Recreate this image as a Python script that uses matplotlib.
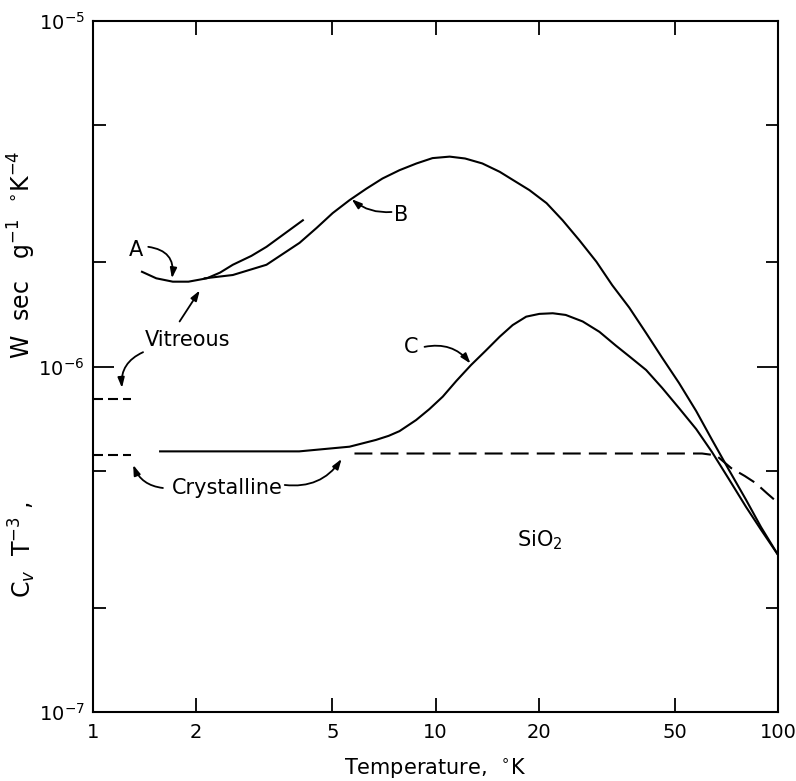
import numpy as np
import matplotlib
matplotlib.use("Agg")
import matplotlib.pyplot as plt
from matplotlib.ticker import FixedLocator, NullFormatter, LogFormatterMathtext

# curve A (vitreous, low temperature run)
temp_a = [1.39, 1.53, 1.71, 1.9, 2.15, 2.35, 2.56, 2.9, 3.21, 4.1]
cv_a = [1.88e-6, 1.80e-6, 1.76e-6, 1.76e-6, 1.80e-6, 1.87e-6, 1.97e-6, 2.09e-6,
        2.22e-6, 2.65e-6]

# curve B (vitreous)
temp_b = [2.12, 2.56, 3.21, 4.01, 4.5, 5.01, 5.61, 6.28, 7.0, 7.85, 8.8, 9.8,
          11.0, 12.2, 13.7, 15.4, 16.8, 18.8, 21.1, 23.5, 26.3, 29.5, 32.8,
          36.8, 41.2, 45.9, 51.4, 57.7, 64.2, 71.9, 80.7, 89.2, 100]
cv_b = [1.80e-6, 1.84e-6, 1.97e-6, 2.28e-6, 2.52e-6, 2.78e-6, 3.03e-6, 3.27e-6,
        3.50e-6, 3.70e-6, 3.87e-6, 4.01e-6, 4.05e-6, 4.00e-6, 3.87e-6, 3.66e-6,
        3.47e-6, 3.24e-6, 2.97e-6, 2.65e-6, 2.32e-6, 2.01e-6, 1.72e-6, 1.48e-6,
        1.25e-6, 1.06e-6, 8.96e-7, 7.43e-7, 6.13e-7, 5.02e-7, 4.11e-7, 3.43e-7,
        2.85e-7]

# curve C (crystalline)
temp_c = [1.57, 3.0, 4.0, 5.61, 6.7, 7.3, 7.85, 8.78, 9.6, 10.5, 11.5, 12.7,
          14.0, 15.4, 16.8, 18.4, 20.1, 22.0, 24.0, 26.9, 30.1, 33.6, 36.8,
          41.2, 45.9, 51.4, 57.7, 64.2, 71.9, 80.7, 89.2, 100]
cv_c = [5.68e-7, 5.68e-7, 5.68e-7, 5.86e-7, 6.13e-7, 6.3e-7, 6.5e-7, 7.0e-7,
        7.53e-7, 8.18e-7, 9.08e-7, 1.01e-6, 1.11e-6, 1.22e-6, 1.318e-6,
        1.394e-6, 1.42e-6, 1.426e-6, 1.41e-6, 1.35e-6, 1.26e-6, 1.15e-6,
        1.07e-6, 9.77e-7, 8.67e-7, 7.58e-7, 6.59e-7, 5.65e-7, 4.72e-7,
        3.92e-7, 3.37e-7, 2.85e-7]

# crystalline (dashed)
temp_d = [5.8, 30, 60, 66, 73, 80, 86, 93, 100]
cv_d = [5.6e-7, 5.6e-7, 5.6e-7, 5.53e-7, 5.08e-7, 4.82e-7, 4.6e-7, 4.29e-7, 4.03e-7]

# low-T limits on the left edge
temp_lim = [1.0, 1.29]
cv_vit_lim = 8.05e-7
cv_cry_lim = 5.55e-7

xticks = [1, 2, 5, 10, 20, 50, 100]
xticklabels = ["1", "2", "5", "10", "20", "50", "100"]

fig = plt.figure(figsize=(7.96, 7.81), dpi=100)
ax = fig.add_axes([93 / 796, 1 - 712 / 781, (778 - 93) / 796, (712 - 21) / 781])
ax.set_xscale("log")
ax.set_yscale("log")
ax.set_xlim(1, 100)
ax.set_ylim(1e-7, 1e-5)

lw = 1.5
ax.plot(temp_a, cv_a, color="black", lw=lw)
ax.plot(temp_b, cv_b, color="black", lw=lw)
ax.plot(temp_c, cv_c, color="black", lw=lw)
ax.plot(temp_d, cv_d, color="black", lw=lw, linestyle=(0, (8.6, 3.9)))
ax.plot(temp_lim, [cv_vit_lim] * 2, color="black", lw=lw, linestyle=(0, (4.8, 2.4)))
ax.plot(temp_lim, [cv_cry_lim] * 2, color="black", lw=lw, linestyle=(0, (4.8, 2.4)))

# ticks
ax.xaxis.set_major_locator(FixedLocator(xticks))
ax.set_xticklabels(xticklabels)
ax.xaxis.set_minor_locator(FixedLocator([]))
ax.yaxis.set_major_locator(FixedLocator([1e-7, 1e-6, 1e-5]))
ax.yaxis.set_major_formatter(LogFormatterMathtext())
ax.yaxis.set_minor_locator(FixedLocator([2e-7, 5e-7, 2e-6, 5e-6]))
ax.yaxis.set_minor_formatter(NullFormatter())
ax.tick_params(axis="both", which="both", direction="in", top=True, right=True,
               width=1.3, labelsize=14, colors="black")
ax.tick_params(axis="x", which="major", length=10, pad=8)
ax.tick_params(axis="y", which="major", length=15, pad=6)
ax.tick_params(axis="y", which="minor", length=9)
for s in ax.spines.values():
    s.set_linewidth(1.5)

ax.set_xlabel("Temperature,  $^{\\circ}$K", fontsize=15, labelpad=10)
fig.text(22 / 796, 1 - 255 / 781, "W  sec   g$^{-1}$  $^{\\circ}$K$^{-4}$",
         rotation=90, ha="center", va="center", fontsize=17)
fig.text(22 / 796, 1 - 550 / 781, "C$_v$  T$^{-3}$ ,",
         rotation=90, ha="center", va="center", fontsize=17)

# labels and arrows
fs = 15
ax.text(1.335, 2.17e-6, "A", fontsize=fs, ha="center", va="center")
ax.text(7.96, 2.74e-6, "B", fontsize=fs, ha="center", va="center")
ax.text(8.51, 1.14e-6, "C", fontsize=fs, ha="center", va="center")
ax.text(1.89, 1.19e-6, "Vitreous", fontsize=fs, ha="center", va="center")
ax.text(2.46, 4.45e-7, "Crystalline", fontsize=fs, ha="center", va="center")
ax.text(20.1, 3.15e-7, "SiO$_2$", fontsize=fs, ha="center", va="center")

arrows = [
    ((1.45, 2.22e-6), (1.70, 1.80e-6), -0.5),
    ((7.44, 2.80e-6), (5.69, 3.05e-6), -0.2),
    ((9.29, 1.14e-6), (12.65, 1.02e-6), -0.3),
    ((1.79, 1.35e-6), (2.05, 1.66e-6), 0.0),
    ((1.40, 1.10e-6), (1.215, 8.67e-7), 0.35),
    ((1.60, 4.45e-7), (1.31, 5.19e-7), -0.3),
    ((3.63, 4.54e-7), (5.32, 5.40e-7), 0.3),
]
for start, tip, rad in arrows:
    ax.annotate("", xy=tip, xytext=start,
                arrowprops=dict(arrowstyle="-|>,head_length=0.6,head_width=0.2",
                                color="black", lw=1.3, shrinkA=0, shrinkB=0,
                                connectionstyle="arc3,rad=%s" % rad))

fig.savefig("out.png", dpi=100)
